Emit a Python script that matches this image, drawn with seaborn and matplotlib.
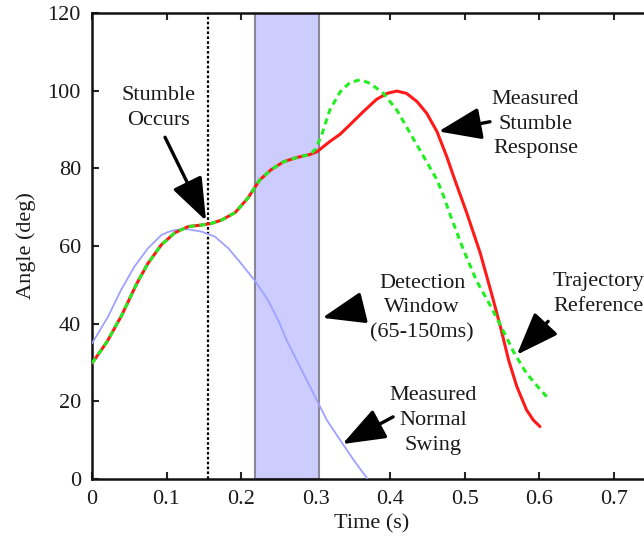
import matplotlib
matplotlib.use("Agg")
import matplotlib.pyplot as plt
import seaborn as sns
import pandas as pd

# ---- data ----
# shared segment (reference == measured stumble up to ~0.3 s)
shared_t = [0.0, 0.02, 0.04, 0.06, 0.075, 0.093, 0.111, 0.129, 0.147, 0.16,
            0.174, 0.192, 0.209, 0.225, 0.24, 0.257, 0.275, 0.293]
shared_v = [29.8, 35.3, 42.2, 50.3, 55.5, 60.3, 63.4, 65.0, 65.4, 65.8,
            66.7, 68.6, 72.3, 77.0, 79.6, 81.7, 82.8, 83.6]

ref_t_tail = [0.300, 0.308, 0.319, 0.333, 0.346, 0.360, 0.373, 0.391, 0.409,
              0.427, 0.445, 0.463, 0.472, 0.481, 0.498, 0.516, 0.534, 0.548,
              0.566, 0.583, 0.597, 0.610]
ref_v_tail = [85.0, 88.5, 95.0, 99.7, 102.1, 102.8, 101.9, 99.3, 95.0,
              89.0, 83.0, 77.0, 72.7, 67.8, 59.2, 51.0, 44.8, 39.6,
              32.6, 27.2, 24.0, 21.2]

stumble_t_tail = [0.302, 0.319, 0.333, 0.346, 0.364, 0.382, 0.396, 0.409,
                  0.422, 0.436, 0.449, 0.463, 0.476, 0.485, 0.503, 0.521,
                  0.536, 0.548, 0.559, 0.570, 0.583, 0.592, 0.601]
stumble_v_tail = [84.3, 86.9, 88.8, 91.2, 94.6, 97.8, 99.3, 99.9,
                  99.3, 97.2, 94.2, 89.4, 83.0, 78.0, 68.4, 58.1,
                  47.8, 39.2, 30.6, 23.8, 17.8, 15.2, 13.5]

normal_t = [0.0, 0.0215, 0.039, 0.057, 0.075, 0.093, 0.102, 0.111, 0.12,
            0.129, 0.147, 0.165, 0.183, 0.200, 0.218, 0.236, 0.250, 0.261,
            0.279, 0.297, 0.315, 0.333, 0.351, 0.369]
normal_v = [34.9, 41.8, 48.7, 54.7, 59.4, 62.8, 63.6, 64.1, 64.3,
            64.3, 63.7, 62.4, 59.4, 55.5, 51.2, 46.1, 40.8, 35.8,
            28.9, 22.1, 15.2, 10.0, 4.9, 0.2]

stumble_time = 0.155
window = (0.219, 0.305)

x_ticks = [0, 0.1, 0.2, 0.3, 0.4, 0.5, 0.6, 0.7]
x_tick_labels = ["0", "0.1", "0.2", "0.3", "0.4", "0.5", "0.6", "0.7"]
y_ticks = [0, 20, 40, 60, 80, 100, 120]

ref = pd.DataFrame({"t": shared_t + ref_t_tail, "v": shared_v + ref_v_tail})
stum = pd.DataFrame({"t": shared_t + stumble_t_tail, "v": shared_v + stumble_v_tail})
norm = pd.DataFrame({"t": normal_t, "v": normal_v})

# ---- style ----
sns.set_style("ticks")
plt.rcParams["font.family"] = ["Liberation Serif", "DejaVu Serif"]
plt.rcParams["font.size"] = 16
txt_color = "#1a1a1a"

fig = plt.figure(figsize=(6.44, 5.46), dpi=100)
ax = fig.add_axes([92 / 644, 67 / 546, 559 / 644, 466 / 546])

ax.axvspan(window[0], window[1], facecolor="#ccccff", edgecolor="#888899",
           lw=1.5, zorder=1)
ax.axvline(stumble_time, color="black", ls=(0, (1.2, 1.0)), lw=1.6, zorder=2)

sns.lineplot(data=norm, x="t", y="v", ax=ax, color="#a0a0ff", lw=1.3,
             estimator=None, sort=False, zorder=3)
sns.lineplot(data=stum, x="t", y="v", ax=ax, color="#ff1a1a", lw=2.2,
             estimator=None, sort=False, zorder=4)
sns.lineplot(data=ref, x="t", y="v", ax=ax, color="#22ee22", lw=2.2,
             ls=(0, (2.0, 1.5)), estimator=None, sort=False, zorder=5)

ax.set_xlim(0, 0.75)
ax.set_ylim(0, 120)
ax.set_xticks(x_ticks)
ax.set_xticklabels(x_tick_labels)
ax.set_yticks(y_ticks)
ax.tick_params(direction="in", length=5, width=1.5, top=True, right=True,
               labelsize=16, labelcolor=txt_color, pad=8)
for s in ax.spines.values():
    s.set_linewidth(1.8)
    s.set_color("#111111")

ax.set_xlabel("Time (s)", fontsize=16, color=txt_color, labelpad=4)
ax.set_ylabel("Angle (deg)", fontsize=16, color=txt_color, labelpad=8)

arrow_kw = dict(arrowstyle="-|>,head_length=1.2,head_width=0.45",
                color="black", lw=2.4, mutation_scale=22, shrinkA=0, shrinkB=0)

def note(text, xy_text, xy_head, tail):
    ax.text(xy_text[0], xy_text[1], text, ha="center", va="center",
            fontsize=16, color=txt_color, linespacing=1.42, zorder=6)
    ax.annotate("", xy=xy_head, xytext=tail, arrowprops=arrow_kw, zorder=6)

note("Stumble\nOccurs", (0.089, 95.5), (0.153, 66.5), (0.098, 88.0))
note("Measured\nStumble\nResponse", (0.595, 91.4), (0.465, 89.5), (0.534, 92.0))
note("Detection\nWindow\n(65-150ms)", (0.443, 44.0), (0.309, 41.5), (0.362, 44.0))
note("Trajectory\nReference", (0.679, 47.6), (0.570, 32.0), (0.612, 40.6))
note("Measured\nNormal\nSwing", (0.458, 15.0), (0.336, 9.0), (0.404, 16.0))

fig.savefig("out.png", dpi=100)
